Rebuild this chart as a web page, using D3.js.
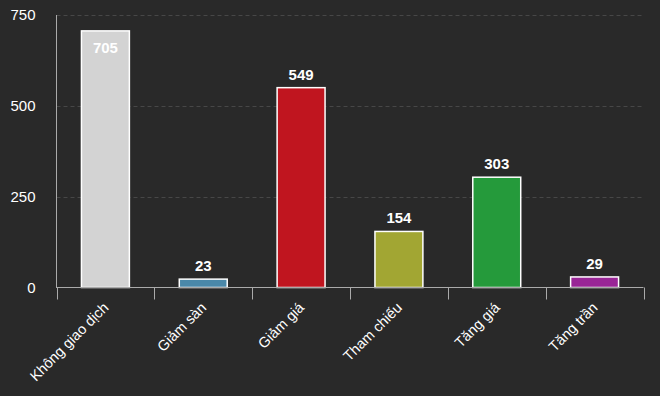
<!DOCTYPE html>
<html><head><meta charset="utf-8">
<script src="https://cdn.jsdelivr.net/npm/d3@7"></script>
<style>
html,body{margin:0;padding:0;background:#292929;}
svg{display:block;font-family:"Liberation Sans",Arial,Helvetica,sans-serif;}
</style></head>
<body>
<svg id="chart" width="660" height="396"></svg>
<script>
const categories = ["Không giao dịch","Giảm sàn","Giảm giá","Tham chiếu","Tăng giá","Tăng trần"];
const values = [705, 23, 549, 154, 303, 29];
const colors = ["#d3d3d3","#4a88a9","#c0151f","#a2a633","#259a3b","#992596"];
const yTicks = [0, 250, 500, 750];

const svg = d3.select("#chart");
const W = 660, H = 396;
svg.append("rect").attr("width", W).attr("height", H).attr("fill", "#292929");

const x = d3.scaleBand().domain(categories).range([56.5, 643.5]).padding(0);
const y = d3.scaleLinear().domain([0, 750]).range([287.5, 14.5]);

// gridlines
svg.append("g").selectAll("line").data(yTicks.filter(d => d > 0)).join("line")
  .attr("x1", 56.5).attr("x2", 643.5)
  .attr("y1", d => Math.round(y(d)) + 0.5).attr("y2", d => Math.round(y(d)) + 0.5)
  .attr("stroke", "#474747").attr("stroke-dasharray", "4,3").attr("stroke-width", 1);

// y axis
const yAxis = d3.axisLeft(y).tickValues(yTicks).tickSize(0).tickPadding(21);
const yg = svg.append("g").attr("transform", "translate(56.5,0)").call(yAxis);
yg.select(".domain").remove();
yg.selectAll("text").attr("fill", "#ffffff").attr("font-size", 15)
  .attr("font-family", "Liberation Sans, Arial, sans-serif");
svg.append("line").attr("x1", 56.5).attr("x2", 56.5).attr("y1", 15).attr("y2", 288)
  .attr("stroke", "#aaaaaa");

// bars
const bw = x.bandwidth() * 0.49;
svg.append("g").selectAll("rect").data(values).join("rect")
  .attr("x", (d, i) => x(categories[i]) + x.bandwidth() / 2 - bw / 2)
  .attr("width", bw)
  .attr("y", d => y(d))
  .attr("height", d => y(0) - y(d))
  .attr("fill", (d, i) => colors[i])
  .attr("stroke", "#ffffff").attr("stroke-width", 1.5);

// value labels
svg.append("g").selectAll("text").data(values).join("text")
  .attr("x", (d, i) => x(categories[i]) + x.bandwidth() / 2)
  .attr("y", d => d > 650 ? y(d) + 22 : y(d) - 8)
  .attr("text-anchor", "middle")
  .attr("fill", "#ffffff").attr("font-size", 15).attr("font-weight", "bold")
  .text(d => d);

// x axis
const xg = svg.append("g").attr("transform", "translate(0,287.5)");
xg.append("line").attr("x1", 56.5).attr("x2", 643.5).attr("stroke", "#aaaaaa");
const tickPos = categories.map(c => x(c)).concat([x.range()[1]]);
xg.selectAll("line.tk").data(tickPos).join("line").attr("class", "tk")
  .attr("x1", d => Math.round(d) + 0.5).attr("x2", d => Math.round(d) + 0.5)
  .attr("y1", 0).attr("y2", 12).attr("stroke", "#aaaaaa");

xg.selectAll("text").data(categories).join("text")
  .attr("transform", c => `translate(${x(c) + x.bandwidth() / 2 + 4},${21}) rotate(-45)`)
  .attr("text-anchor", "end")
  .attr("fill", "#ffffff").attr("font-size", 14.5)
  .text(c => c);
</script>
</body></html>
